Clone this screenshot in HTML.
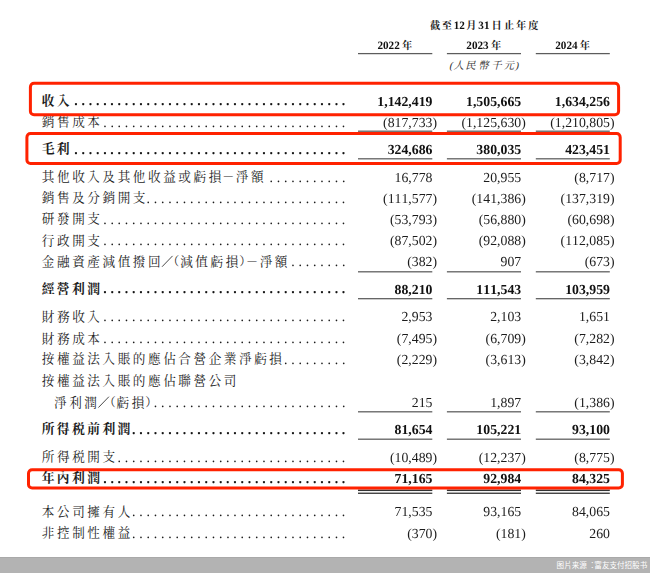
<!DOCTYPE html>
<html lang="zh-Hant"><head><meta charset="utf-8"><title>綜合損益表</title><style>
html,body{margin:0;padding:0;background:#fff}
body{width:650px;height:573px;position:relative;overflow:hidden;font-family:"Liberation Serif",serif;color:#1c1c1c;font-kerning:none;font-feature-settings:"kern" 0,"liga" 0;font-variant-ligatures:none}
svg{position:absolute;left:0;top:0}
.n,.d,.h{transform-origin:0 0;left:0;top:0;position:absolute;white-space:nowrap;line-height:15px;height:15px}
.n,.d{font-size:13.8px;text-align:right;}
.d{letter-spacing:3.785px}
.b{font-weight:bold;color:#111}
.h{font-size:11.2px;font-weight:bold;color:#111;line-height:12px;height:12px}
.t{position:absolute;left:0;top:0;width:650px;height:573px;will-change:transform}
.foot{position:absolute;left:0;top:557px;width:650px;height:16px;background:#b3b3b3;border-top:1px solid #a9a9a9;box-sizing:border-box}
svg text{font-family:"Liberation Serif","Noto Serif CJK SC",serif}
svg text.r{font-size:12.6px}
svg text.bb{font-size:12.8px;font-weight:bold}
svg text.p{font-size:12px}
svg text.pb{font-size:12px;font-weight:bold}
svg text.hh{font-size:10.2px;font-weight:bold}
svg text.src{font-family:"Liberation Sans","Noto Sans CJK SC",sans-serif;font-size:7.55px}
</style></head><body>
<div class="foot"></div>
<svg width="650" height="573" viewBox="0 0 650 573" fill="#1c1c1c" role="img" aria-label="綜合損益表 截至12月31日止年度 (人民幣千元) 图片来源：富友支付招股书">
<g><title>收入</title>
<text class="bb" x="41.70 56.87" y="104.85">收入</text>
</g>
<g><title>銷售成本</title>
<text class="r" x="41.80 56.97 72.14 87.31" y="126.35">銷售成本</text>
</g>
<g><title>毛利</title>
<text class="bb" x="41.70 56.87" y="153.05">毛利</text>
</g>
<g><title>其他收入及其他收益或虧損－淨額</title>
<text class="r" x="41.80 56.97 72.14 87.31 102.48 117.65 132.82 147.99 163.16 178.33 193.50 208.67" y="181.45">其他收入及其他收益或虧損</text>
<text class="pb" x="222.20" y="181.45">－</text>
<text class="r" x="235.84 251.01" y="181.45">淨額</text>
</g>
<g><title>銷售及分銷開支</title>
<text class="r" x="41.80 56.97 72.14 87.31 102.48 117.65 132.82" y="202.45">銷售及分銷開支</text>
</g>
<g><title>研發開支</title>
<text class="r" x="41.80 56.97 72.14 87.31" y="223.25">研發開支</text>
</g>
<g><title>行政開支</title>
<text class="r" x="41.80 56.97 72.14 87.31" y="244.55">行政開支</text>
</g>
<g><title>金融資產減值撥回╱(減值虧損)－淨額</title>
<text class="r" x="41.80 56.97 72.14 87.31 102.48 117.65 132.82 147.99" y="265.75">金融資產減值撥回</text>
<line x1="162.06" y1="266.75" x2="172.56" y2="255.90" stroke="#1c1c1c" stroke-width="0.8"/>
<text class="p" x="167.37" y="265.75">（</text>
<text class="r" x="180.16 195.33 210.50 225.67" y="265.75">減值虧損</text>
<text class="p" x="239.21" y="265.75">）</text>
<text class="pb" x="246.00" y="265.75">－</text>
<text class="r" x="259.64 274.81" y="265.75">淨額</text>
</g>
<g><title>經營利潤</title>
<text class="bb" x="41.70 56.87 72.04 87.21" y="293.05">經營利潤</text>
</g>
<g><title>財務收入</title>
<text class="r" x="41.80 56.97 72.14 87.31" y="320.75">財務收入</text>
</g>
<g><title>財務成本</title>
<text class="r" x="41.80 56.97 72.14 87.31" y="342.55">財務成本</text>
</g>
<g><title>按權益法入賬的應佔合營企業淨虧損</title>
<text class="r" x="41.80 56.97 72.14 87.31 102.48 117.65 132.82 147.99 163.16 178.33 193.50 208.67 223.84 239.01 254.18 269.35" y="363.35">按權益法入賬的應佔合營企業淨虧損</text>
</g>
<g><title>按權益法入賬的應佔聯營公司</title>
<text class="r" x="41.80 56.97 72.14 87.31 102.48 117.65 132.82 147.99 163.16 178.33 193.50 208.67 223.84" y="385.05">按權益法入賬的應佔聯營公司</text>
</g>
<g><title>淨利潤╱(虧損)</title>
<text class="r" x="54.00 69.17 84.34" y="406.55">淨利潤</text>
<line x1="98.41" y1="407.55" x2="108.91" y2="396.70" stroke="#1c1c1c" stroke-width="0.8"/>
<text class="p" x="103.72" y="406.55">（</text>
<text class="r" x="116.51 131.68" y="406.55">虧損</text>
<text class="p" x="145.22" y="406.55">）</text>
</g>
<g><title>所得税前利潤</title>
<text class="bb" x="41.70 56.87 72.04 87.21 102.38 117.55" y="433.45">所得税前利潤</text>
</g>
<g><title>所得税開支</title>
<text class="r" x="41.80 56.97 72.14 87.31 102.48" y="461.25">所得税開支</text>
</g>
<g><title>年內利潤</title>
<text class="bb" x="41.70 56.87 72.04 87.21" y="482.05">年內利潤</text>
</g>
<g><title>本公司擁有人</title>
<text class="r" x="41.80 56.97 72.14 87.31 102.48 117.65" y="515.75">本公司擁有人</text>
</g>
<g><title>非控制性權益</title>
<text class="r" x="41.80 56.97 72.14 87.31 102.48 117.65" y="537.35">非控制性權益</text>
</g>
<rect x="358.00" y="52.98" width="74.30" height="1.25" fill="#5c5c5c"/>
<rect x="446.90" y="52.98" width="74.10" height="1.25" fill="#5c5c5c"/>
<rect x="535.80" y="52.98" width="74.00" height="1.25" fill="#5c5c5c"/>
<rect x="358.00" y="130.57" width="74.30" height="1.25" fill="#5c5c5c"/>
<rect x="446.90" y="130.57" width="74.10" height="1.25" fill="#5c5c5c"/>
<rect x="535.80" y="130.57" width="74.00" height="1.25" fill="#5c5c5c"/>
<rect x="358.00" y="158.18" width="74.30" height="1.25" fill="#5c5c5c"/>
<rect x="446.90" y="158.18" width="74.10" height="1.25" fill="#5c5c5c"/>
<rect x="535.80" y="158.18" width="74.00" height="1.25" fill="#5c5c5c"/>
<rect x="358.00" y="271.18" width="74.30" height="1.25" fill="#5c5c5c"/>
<rect x="446.90" y="271.18" width="74.10" height="1.25" fill="#5c5c5c"/>
<rect x="535.80" y="271.18" width="74.00" height="1.25" fill="#5c5c5c"/>
<rect x="358.00" y="298.07" width="74.30" height="1.25" fill="#5c5c5c"/>
<rect x="446.90" y="298.07" width="74.10" height="1.25" fill="#5c5c5c"/>
<rect x="535.80" y="298.07" width="74.00" height="1.25" fill="#5c5c5c"/>
<rect x="358.00" y="411.18" width="74.30" height="1.25" fill="#5c5c5c"/>
<rect x="446.90" y="411.18" width="74.10" height="1.25" fill="#5c5c5c"/>
<rect x="535.80" y="411.18" width="74.00" height="1.25" fill="#5c5c5c"/>
<rect x="358.00" y="438.57" width="74.30" height="1.25" fill="#5c5c5c"/>
<rect x="446.90" y="438.57" width="74.10" height="1.25" fill="#5c5c5c"/>
<rect x="535.80" y="438.57" width="74.00" height="1.25" fill="#5c5c5c"/>
<rect x="358.00" y="489.55" width="74.30" height="1.50" fill="#333"/>
<rect x="446.90" y="489.55" width="74.10" height="1.50" fill="#333"/>
<rect x="535.80" y="489.55" width="74.00" height="1.50" fill="#333"/>
<rect x="358.00" y="492.60" width="74.30" height="1.30" fill="#333"/>
<rect x="446.90" y="492.60" width="74.10" height="1.30" fill="#333"/>
<rect x="535.80" y="492.60" width="74.00" height="1.30" fill="#333"/>
<g><title>截至12月31日止年度</title>
<text class="hh" x="430.06 441.64 466.16 491.52 503.89 515.89 528.31" y="29.20">截至月日止年度</text>
</g>
<g><title>2022年</title>
<text class="hh" x="401.99" y="49.00">年</text>
</g>
<g><title>2023年</title>
<text class="hh" x="490.89" y="49.00">年</text>
</g>
<g><title>2024年</title>
<text class="hh" x="579.79" y="49.00">年</text>
</g>
<g><title>(人民幣千元)</title>
<text transform="translate(0 68.55) skewX(-14)" x="448.94 453.50 465.36 478.30 491.15 503.68 514.86" y="0" font-size="10.3" fill="#2a2a2a"><tspan font-size="10.6">(</tspan>人民幣千元<tspan font-size="10.6">)</tspan></text>
</g>
<g><title>图片来源：富友支付招股书</title>
<text class="src" fill="#fff" x="556.60 564.15 571.70 579.25 588.61 594.35 601.90 609.45 617.00 624.55 632.10 639.65" y="568.00">图片来源：富友支付招股书</text>
</g>
<rect x="30.40" y="83.35" width="588.20" height="31.40" rx="3.6" ry="3.6" fill="none" stroke="#ff2200" stroke-width="3.00"/>
<rect x="26.90" y="133.60" width="593.30" height="29.95" rx="3.6" ry="3.6" fill="none" stroke="#ff2200" stroke-width="3.00"/>
<rect x="28.50" y="469.70" width="593.90" height="18.40" rx="3.6" ry="3.6" fill="none" stroke="#ff2200" stroke-width="3.00"/>
</svg>
<div class="t">
<div class="d b" style="transform:translate(74.18px,93px) skewX(.1deg)">......................................</div>
<div class="n b" style="transform:translate(377.30px,94px) skewX(.1deg)">1,142,419</div>
<div class="n b" style="transform:translate(466.00px,94px) skewX(.1deg)">1,505,665</div>
<div class="n b" style="transform:translate(554.80px,94px) skewX(.1deg)">1,634,256</div>
<div class="d" style="transform:translate(103.12px,115px) skewX(.1deg)">..................................</div>
<div class="n" style="transform:translate(383.05px,115px) skewX(.1deg)">(817,733)</div>
<div class="n" style="transform:translate(461.40px,115px) skewX(.1deg)">(1,125,630)</div>
<div class="n" style="transform:translate(550.20px,115px) skewX(.1deg)">(1,210,805)</div>
<div class="d b" style="transform:translate(74.18px,142px) skewX(.1deg)">......................................</div>
<div class="n b" style="transform:translate(387.65px,142px) skewX(.1deg)">324,686</div>
<div class="n b" style="transform:translate(476.35px,142px) skewX(.1deg)">380,035</div>
<div class="n b" style="transform:translate(565.15px,142px) skewX(.1deg)">423,451</div>
<div class="d" style="transform:translate(269.52px,170px) skewX(.1deg)">...........</div>
<div class="n" style="transform:translate(394.55px,170px) skewX(.1deg)">16,778</div>
<div class="n" style="transform:translate(483.25px,170px) skewX(.1deg)">20,955</div>
<div class="n" style="transform:translate(574.35px,170px) skewX(.1deg)">(8,717)</div>
<div class="d" style="transform:translate(146.53px,191px) skewX(.1deg)">............................</div>
<div class="n" style="transform:translate(383.05px,191px) skewX(.1deg)">(111,577)</div>
<div class="n" style="transform:translate(471.75px,191px) skewX(.1deg)">(141,386)</div>
<div class="n" style="transform:translate(560.55px,191px) skewX(.1deg)">(137,319)</div>
<div class="d" style="transform:translate(103.12px,212px) skewX(.1deg)">..................................</div>
<div class="n" style="transform:translate(389.95px,212px) skewX(.1deg)">(53,793)</div>
<div class="n" style="transform:translate(478.65px,212px) skewX(.1deg)">(56,880)</div>
<div class="n" style="transform:translate(567.45px,212px) skewX(.1deg)">(60,698)</div>
<div class="d" style="transform:translate(103.12px,233px) skewX(.1deg)">..................................</div>
<div class="n" style="transform:translate(389.95px,233px) skewX(.1deg)">(87,502)</div>
<div class="n" style="transform:translate(478.65px,233px) skewX(.1deg)">(92,088)</div>
<div class="n" style="transform:translate(560.55px,233px) skewX(.1deg)">(112,085)</div>
<div class="d" style="transform:translate(291.23px,254px) skewX(.1deg)">........</div>
<div class="n" style="transform:translate(407.20px,254px) skewX(.1deg)">(382)</div>
<div class="n" style="transform:translate(500.50px,254px) skewX(.1deg)">907</div>
<div class="n" style="transform:translate(584.70px,254px) skewX(.1deg)">(673)</div>
<div class="d b" style="transform:translate(103.12px,281px) skewX(.1deg)">..................................</div>
<div class="n b" style="transform:translate(394.55px,282px) skewX(.1deg)">88,210</div>
<div class="n b" style="transform:translate(476.35px,282px) skewX(.1deg)">111,543</div>
<div class="n b" style="transform:translate(565.15px,282px) skewX(.1deg)">103,959</div>
<div class="d" style="transform:translate(103.12px,309px) skewX(.1deg)">..................................</div>
<div class="n" style="transform:translate(401.45px,309px) skewX(.1deg)">2,953</div>
<div class="n" style="transform:translate(490.15px,309px) skewX(.1deg)">2,103</div>
<div class="n" style="transform:translate(578.95px,309px) skewX(.1deg)">1,651</div>
<div class="d" style="transform:translate(103.12px,331px) skewX(.1deg)">..................................</div>
<div class="n" style="transform:translate(396.85px,331px) skewX(.1deg)">(7,495)</div>
<div class="n" style="transform:translate(485.55px,331px) skewX(.1deg)">(6,709)</div>
<div class="n" style="transform:translate(574.35px,331px) skewX(.1deg)">(7,282)</div>
<div class="d" style="transform:translate(284.00px,352px) skewX(.1deg)">.........</div>
<div class="n" style="transform:translate(396.85px,352px) skewX(.1deg)">(2,229)</div>
<div class="n" style="transform:translate(485.55px,352px) skewX(.1deg)">(3,613)</div>
<div class="n" style="transform:translate(574.35px,352px) skewX(.1deg)">(3,842)</div>
<div class="d" style="transform:translate(153.77px,395px) skewX(.1deg)">...........................</div>
<div class="n" style="transform:translate(411.80px,395px) skewX(.1deg)">215</div>
<div class="n" style="transform:translate(490.15px,395px) skewX(.1deg)">1,897</div>
<div class="n" style="transform:translate(574.35px,395px) skewX(.1deg)">(1,386)</div>
<div class="d b" style="transform:translate(132.06px,422px) skewX(.1deg)">..............................</div>
<div class="n b" style="transform:translate(394.55px,422px) skewX(.1deg)">81,654</div>
<div class="n b" style="transform:translate(476.35px,422px) skewX(.1deg)">105,221</div>
<div class="n b" style="transform:translate(572.05px,422px) skewX(.1deg)">93,100</div>
<div class="d" style="transform:translate(117.59px,450px) skewX(.1deg)">................................</div>
<div class="n" style="transform:translate(389.95px,450px) skewX(.1deg)">(10,489)</div>
<div class="n" style="transform:translate(478.65px,450px) skewX(.1deg)">(12,237)</div>
<div class="n" style="transform:translate(574.35px,450px) skewX(.1deg)">(8,775)</div>
<div class="d b" style="transform:translate(103.12px,471px) skewX(.1deg)">..................................</div>
<div class="n b" style="transform:translate(394.55px,471px) skewX(.1deg)">71,165</div>
<div class="n b" style="transform:translate(483.25px,471px) skewX(.1deg)">92,984</div>
<div class="n b" style="transform:translate(572.05px,471px) skewX(.1deg)">84,325</div>
<div class="d" style="transform:translate(132.06px,504px) skewX(.1deg)">..............................</div>
<div class="n" style="transform:translate(394.55px,504px) skewX(.1deg)">71,535</div>
<div class="n" style="transform:translate(483.25px,504px) skewX(.1deg)">93,165</div>
<div class="n" style="transform:translate(572.05px,504px) skewX(.1deg)">84,065</div>
<div class="d" style="transform:translate(132.06px,526px) skewX(.1deg)">..............................</div>
<div class="n" style="transform:translate(407.20px,526px) skewX(.1deg)">(370)</div>
<div class="n" style="transform:translate(495.90px,526px) skewX(.1deg)">(181)</div>
<div class="n" style="transform:translate(589.30px,526px) skewX(.1deg)">260</div>
<div class="h" style="transform:translate(453.70px,19px) skewX(.1deg)">12</div>
<div class="h" style="transform:translate(478.30px,19px) skewX(.1deg)">31</div>
<div class="h" style="transform:translate(377.40px,39px) skewX(.1deg)">2022</div>
<div class="h" style="transform:translate(466.30px,39px) skewX(.1deg)">2023</div>
<div class="h" style="transform:translate(555.20px,39px) skewX(.1deg)">2024</div>
</div>
</body></html>
